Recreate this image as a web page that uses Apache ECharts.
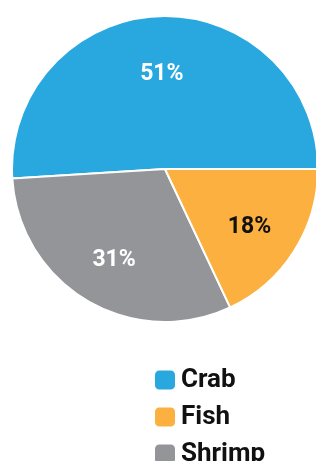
<!DOCTYPE html>
<html>
<head>
<meta charset="utf-8">
<script src="https://cdn.jsdelivr.net/npm/echarts@6/dist/echarts.min.js"></script>
<style>
  html, body { margin: 0; padding: 0; background: #fff; }
  #chart { width: 316px; height: 461px; }
</style>
</head>
<body>
<div id="chart"></div>
<script>
// data (drawn counter-clockwise from 3 o'clock)
const categories = ["Crab", "Shrimp", "Fish"];
const shares = [51, 31, 18];
const colors = ["#29a8e0", "#939598", "#fbb040"];
const labelColors = ["#ffffff", "#ffffff", "#111111"];
const legendOrder = ["Crab", "Fish", "Shrimp"];

const font = "Roboto, 'Liberation Sans', sans-serif";
const center = [165, 169];

const myChart = echarts.init(document.getElementById("chart"));

const sliceData = categories.map((name, i) => ({
  name,
  value: shares[i],
  itemStyle: { color: colors[i] },
}));

// label-only overlay so labels sit a bit farther out than the default "inside"
const labelData = categories.map((name, i) => ({
  name,
  value: shares[i],
  label: { color: labelColors[i] },
}));

const option = {
  animation: false,
  legend: {
    orient: "vertical",
    left: 148,
    top: 362,
    height: 200,
    icon: "roundRect",
    itemWidth: 22,
    itemHeight: 21,
    itemGap: 11,
    data: legendOrder,
    textStyle: {
      fontFamily: font,
      fontWeight: "bold",
      fontSize: 26,
      color: "#111",
    },
  },
  series: [
    {
      type: "pie",
      center,
      radius: 153,
      startAngle: 0,
      clockwise: false,
      label: { show: false },
      labelLine: { show: false },
      itemStyle: { borderColor: "#fff", borderWidth: 2 },
      emphasis: { disabled: true },
      data: sliceData,
    },
    {
      type: "pie",
      center,
      radius: [41, 153],
      startAngle: 0,
      clockwise: false,
      silent: true,
      legendHoverLink: false,
      itemStyle: { color: "transparent" },
      label: {
        show: true,
        position: "inside",
        formatter: "{c}%",
        fontFamily: font,
        fontWeight: "bold",
        fontSize: 23,
        offset: [0, 5],
      },
      labelLine: { show: false },
      data: labelData,
    },
  ],
};
myChart.setOption(option);
</script>
</body>
</html>
